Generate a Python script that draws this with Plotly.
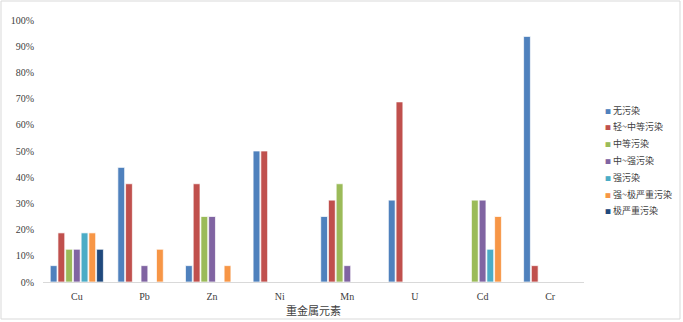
import plotly.graph_objects as go

categories = ["Cu", "Pb", "Zn", "Ni", "Mn", "U", "Cd", "Cr"]
series_names = ["无污染", "轻~中等污染", "中等污染", "中~强污染", "强污染", "强~极严重污染", "极严重污染"]
colors = ["#4F81BD", "#C0504D", "#9BBB59", "#8064A2", "#4BACC6", "#F79646", "#1F497D"]

s_none = [6.25, 43.75, 6.25, 50, 25, 31.25, 0, 93.75]
s_light_mid = [18.75, 37.5, 37.5, 50, 31.25, 68.75, 0, 6.25]
s_mid = [12.5, 0, 25, 0, 37.5, 0, 31.25, 0]
s_mid_strong = [12.5, 6.25, 25, 0, 6.25, 0, 31.25, 0]
s_strong = [18.75, 0, 0, 0, 0, 0, 12.5, 0]
s_strong_ext = [18.75, 12.5, 6.25, 0, 0, 0, 25, 0]
s_ext = [12.5, 0, 0, 0, 0, 0, 0, 0]
series = [s_none, s_light_mid, s_mid, s_mid_strong, s_strong, s_strong_ext, s_ext]

yticks = [0, 10, 20, 30, 40, 50, 60, 70, 80, 90, 100]
ytick_labels = [f"{v}%" for v in yticks]

font_family = "Liberation Serif, Times New Roman, Noto Sans CJK SC, serif"
cjk_family = "Noto Sans CJK SC, Liberation Serif, serif"

W, H = 683, 322
ML, MR, MT, MB = 43, 99, 20, 40
PW, PH = W - ML - MR, H - MT - MB

fig = go.Figure()
for name, vals, col in zip(series_names, series, colors):
    fig.add_trace(go.Bar(
        x=categories, y=vals, name=name, showlegend=False,
        marker=dict(color=col, line=dict(color="rgba(255,255,255,0.7)", width=1)),
    ))

# legend drawn as annotations (Excel-style compact legend)
legend_x_px = 603
legend_y0_px = 110
legend_step_px = 16.8
annotations = []
for i, (name, col) in enumerate(zip(series_names, colors)):
    py = legend_y0_px + i * legend_step_px
    annotations.append(dict(
        xref="paper", yref="paper",
        x=(legend_x_px - ML) / PW, y=(H - MB - py) / PH,
        xanchor="left", yanchor="middle", showarrow=False,
        text=f'<span style="color:{col};font-size:6px">■</span> {name}',
        font=dict(family=cjk_family, size=9, color="#404040"),
    ))

fig.update_layout(
    width=W, height=H, autosize=False,
    margin=dict(l=ML, r=MR, t=MT, b=MB, autoexpand=False),
    paper_bgcolor="white", plot_bgcolor="white",
    barmode="group", bargap=0.2, bargroupgap=0.12,
    showlegend=False,
    font=dict(family=font_family, size=10, color="#404040"),
    xaxis=dict(
        showgrid=False, showline=True, linecolor="#d9d9d9", linewidth=1,
        ticks="", tickfont=dict(size=10), ticklabelstandoff=5, automargin=False,
        title=dict(text="重金属元素", font=dict(family=cjk_family, size=11), standoff=6),
    ),
    yaxis=dict(
        range=[0, 100], tickvals=yticks, ticktext=ytick_labels,
        showgrid=False, showline=False, zeroline=False, ticks="",
        tickfont=dict(size=10), ticklabelstandoff=8, automargin=False,
    ),
    annotations=annotations,
    shapes=[dict(
        type="rect", xref="paper", yref="paper",
        x0=(1 - ML) / PW, x1=(680 - ML) / PW,
        y0=(H - MB - 319) / PH, y1=(H - MB - 1) / PH,
        line=dict(color="#d9d9d9", width=1), fillcolor="rgba(0,0,0,0)", layer="below",
    )],
)

post = ("var s=document.createElement('style');"
        "s.textContent='html,body{margin:0;padding:0;overflow:hidden;width:683px;height:322px;}';"
        "document.head.appendChild(s);")
fig.write_html("out.html", post_script=post,
               config={"responsive": False, "displayModeBar": False})
